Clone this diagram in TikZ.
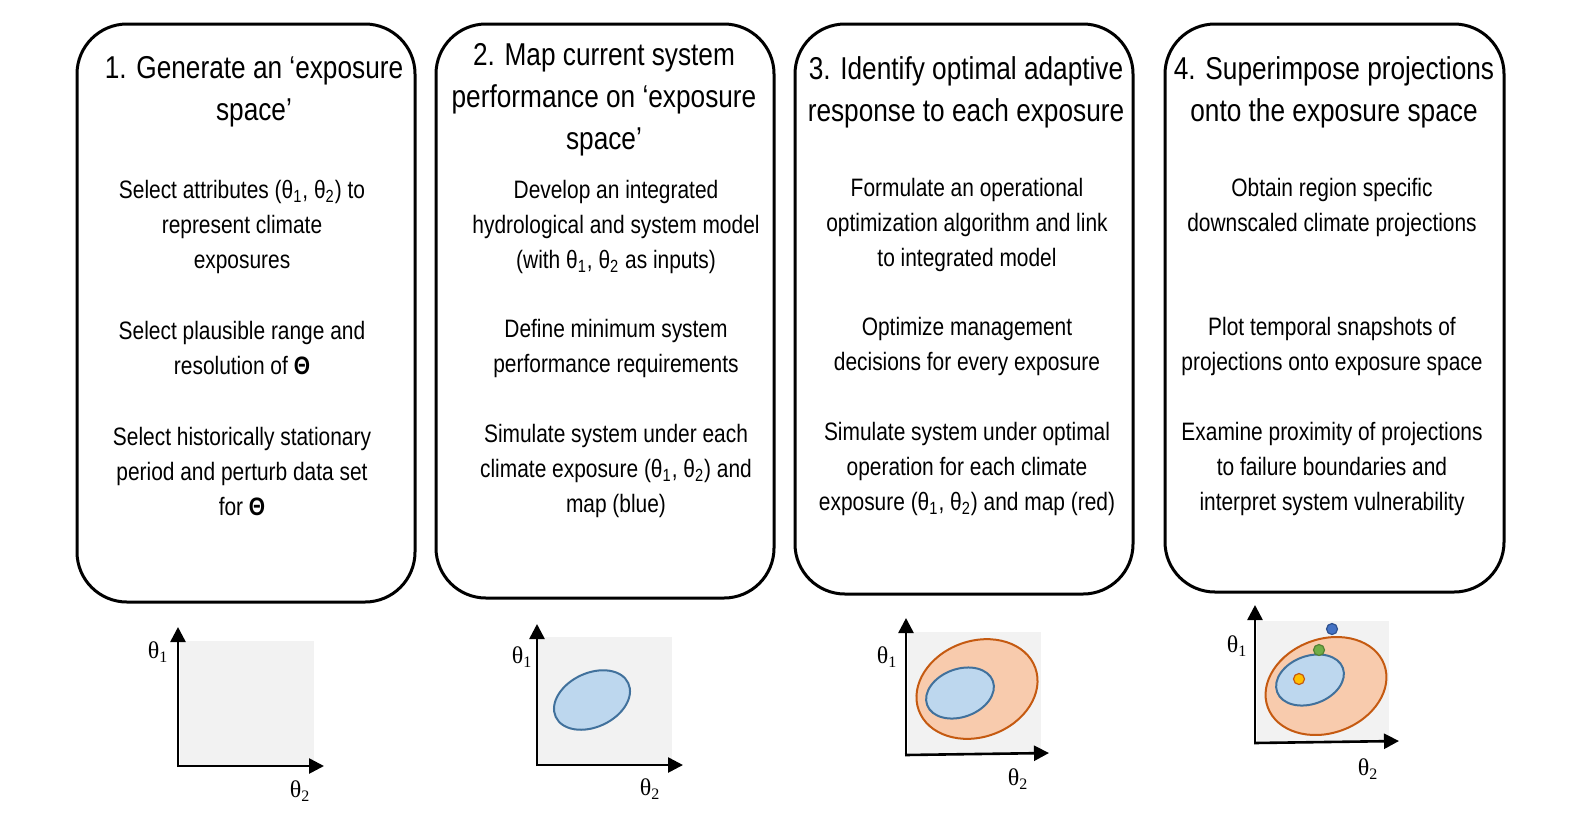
\documentclass[tikz,border=0pt]{standalone}
\usepackage{fontspec}
\setmainfont{Liberation Sans}[FakeStretch=0.83]
\newfontfamily\axisfont{Liberation Serif}
\usetikzlibrary{arrows.meta}
\definecolor{spacegray}{HTML}{F2F2F2}
\definecolor{perfblue}{HTML}{BDD7EE}
\definecolor{perfedge}{HTML}{41719C}
\definecolor{adaptorange}{HTML}{F8CBAD}
\definecolor{adaptedge}{HTML}{C55A11}
\newcommand{\thA}{θ\textsubscript{1}}
\newcommand{\thB}{θ\textsubscript{2}}

\begin{document}
\begin{tikzpicture}[x=0.5pt,y=0.5pt]
		\tikzstyle{every node}+=[inner sep=0pt]
		\tikzstyle{stepframe}=[black, line width=1.5pt, rounded corners=25pt]
		\tikzstyle{steptitle}=[align=center, font=\fontsize{15.8}{21}\selectfont]
		\tikzstyle{steptext}=[align=center, font=\fontsize{12.6}{17.5}\selectfont]
		\tikzstyle{axis}=[black, line width=1.3pt, -{Triangle[width=7.5pt,length=7.5pt]}]
		\tikzstyle{axislabel}=[font=\axisfont\fontsize{12}{12}\selectfont]
		\tikzstyle{perf}=[fill=perfblue, draw=perfedge, line width=1pt]
		\tikzstyle{adapt}=[fill=adaptorange, draw=adaptedge, line width=1pt]
		\useasboundingbox (0,0) rectangle (1578,-826);
		% step 1
		\draw [stepframe] (77,-24) rectangle (415,-602);
		\draw (254,-92) node [steptitle] (title1) {1. Generate an ‘exposure\\space’};
		\draw (242,-227) node [steptext] (text1a) {Select attributes (\thA, \thB) to\\represent climate\\exposures};
		\draw (242,-348) node [steptext] (text1b) {Select plausible range and\\resolution of \textbf{Θ}};
		\draw (242,-471) node [steptext] (text1c) {Select historically stationary\\period and perturb data set\\for \textbf{Θ}};
		% step 2
		\draw [stepframe] (436,-24) rectangle (774,-598);
		\draw (604,-100) node [steptitle] (title2) {2. Map current system\\performance on ‘exposure\\space’};
		\draw (616,-227) node [steptext] (text2a) {Develop an integrated\\hydrological and system model\\(with \thA, \thB{} as inputs)};
		\draw (616,-348) node [steptext] (text2b) {Define minimum system\\performance requirements};
		\draw (616,-471) node [steptext] (text2c) {Simulate system under each\\climate exposure (\thA, \thB) and\\map (blue)};
		% step 3
		\draw [stepframe] (795,-24) rectangle (1133,-594);
		\draw (966,-92) node [steptitle] (title3) {3. Identify optimal adaptive\\response to each exposure};
		\draw (967,-225) node [steptext] (text3a) {Formulate an operational\\optimization algorithm and link\\to integrated model};
		\draw (967,-346) node [steptext] (text3b) {Optimize management\\decisions for every exposure};
		\draw (967,-469) node [steptext] (text3c) {Simulate system under optimal\\operation for each climate\\exposure (\thA, \thB) and map (red)};
		% step 4
		\draw [stepframe] (1165,-24) rectangle (1504,-592);
		\draw (1334,-92) node [steptitle] (title4) {4. Superimpose projections\\onto the exposure space};
		\draw (1332,-207) node [steptext] (text4a) {Obtain region specific\\downscaled climate projections};
		\draw (1332,-346) node [steptext] (text4b) {Plot temporal snapshots of\\projections onto exposure space};
		\draw (1332,-469) node [steptext] (text4c) {Examine proximity of projections\\to failure boundaries and\\interpret system vulnerability};
		% exposure spaces
		\fill [spacegray] (180,-641) rectangle (314,-766);
		\draw [axis] (178,-767) -- (178,-627);
		\draw [axis] (177,-766) -- (324,-766);
		\draw (158,-652) node [axislabel] (y1) {\thA};
		\draw (300,-791) node [axislabel] (x1) {\thB};
		\fill [spacegray] (538,-637) rectangle (672,-765);
		\draw [perf] (592,-700) ellipse [x radius=40, y radius=27, rotate=25];
		\draw [axis] (537,-766) -- (537,-624);
		\draw [axis] (536,-765) -- (683,-765);
		\draw (522,-657) node [axislabel] (y2) {\thA};
		\draw (650,-789) node [axislabel] (x2) {\thB};
		\fill [spacegray] (908,-632) rectangle (1041,-753);
		\draw [adapt] (977,-689) ellipse [x radius=62, y radius=48, rotate=20];
		\draw [perf] (960,-693) ellipse [x radius=35, y radius=24, rotate=20];
		\draw [axis] (906,-756) -- (906,-618);
		\draw [axis] (905,-755) -- (1049,-753);
		\draw (887,-657) node [axislabel] (y3) {\thA};
		\draw (1018,-779) node [axislabel] (x3) {\thB};
		\fill [spacegray] (1257,-621) rectangle (1389,-742);
		\draw [adapt] (1326,-686) ellipse [x radius=62, y radius=47, rotate=20];
		\draw [perf] (1310,-680) ellipse [x radius=35, y radius=24, rotate=20];
		\draw [axis] (1255,-744) -- (1255,-605);
		\draw [axis] (1254,-743) -- (1399,-741);
		\draw (1237,-646) node [axislabel] (y4) {\thA};
		\draw (1368,-769) node [axislabel] (x4) {\thB};
		\draw [fill={rgb,255:red,68;green,114;blue,196}, draw={rgb,255:red,47;green,82;blue,143}, line width=0.6pt] (1332,-629) circle (5.5);
		\draw [fill={rgb,255:red,112;green,173;blue,71}, draw={rgb,255:red,84;green,130;blue,53}, line width=0.6pt] (1319,-650) circle (5.5);
		\draw [fill={rgb,255:red,255;green,192;blue,0}, draw={rgb,255:red,197;green,90;blue,17}, line width=0.6pt] (1299,-679) circle (5.5);
		\end{tikzpicture}
\end{document}
